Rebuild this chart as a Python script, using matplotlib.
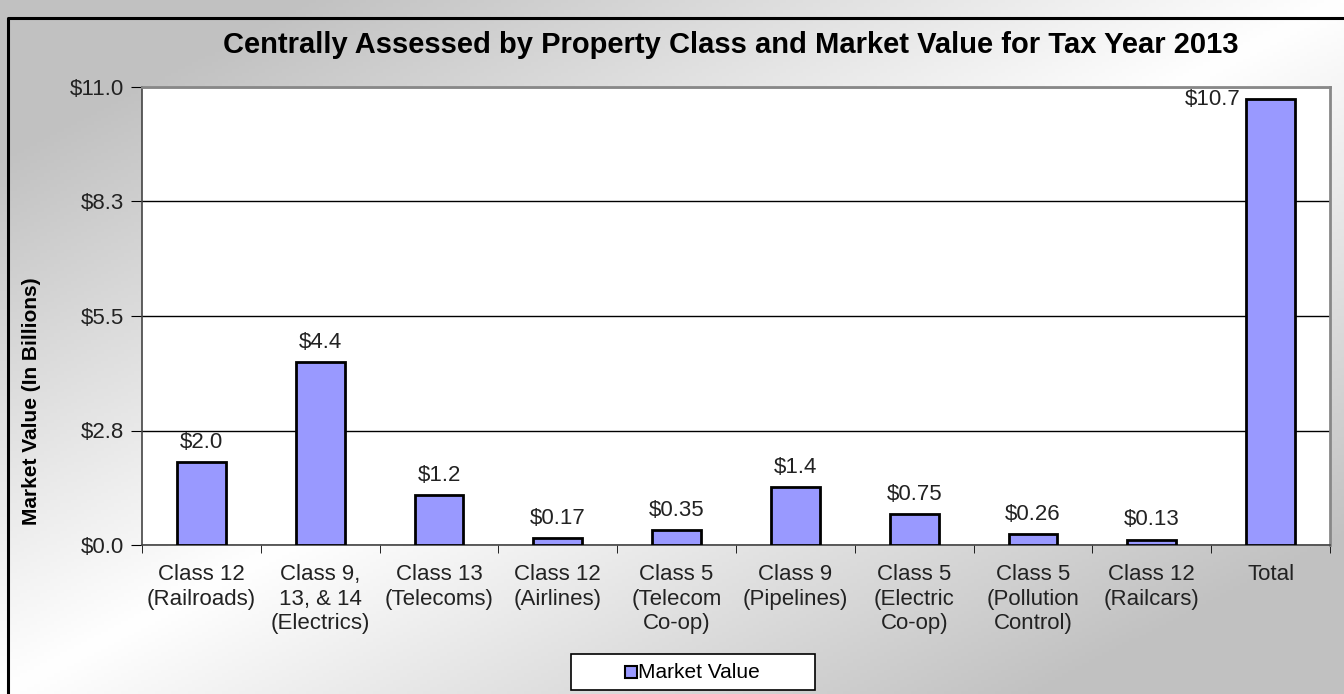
import numpy as np
import matplotlib.pyplot as plt
from matplotlib.patches import Rectangle

plt.rcParams['font.family'] = ['Liberation Sans', 'DejaVu Sans']

# data
categories = ["Class 12\n(Railroads)", "Class 9,\n13, & 14\n(Electrics)", "Class 13\n(Telecoms)",
              "Class 12\n(Airlines)", "Class 5\n(Telecom\nCo-op)", "Class 9\n(Pipelines)",
              "Class 5\n(Electric\nCo-op)", "Class 5\n(Pollution\nControl)", "Class 12\n(Railcars)",
              "Total"]
values = [2.0, 4.4, 1.2, 0.17, 0.35, 1.4, 0.75, 0.26, 0.13, 10.7]
value_labels = ["$2.0", "$4.4", "$1.2", "$0.17", "$0.35", "$1.4", "$0.75", "$0.26", "$0.13", "$10.7"]
yticks = [0, 2.75, 5.5, 8.25, 11.0]
ytick_labels = ["$0.0", "$2.8", "$5.5", "$8.3", "$11.0"]

W, H = 1344, 694
fig = plt.figure(figsize=(W / 100, H / 100), dpi=100)

# gradient background: grey top-left and bottom-right, white along the other diagonal
bg = fig.add_axes([0, 0, 1, 1])
xx, yy = np.meshgrid(np.linspace(0, 1, 400), np.linspace(0, 1, 200))
t = np.abs(xx + yy - 1.0)
g = 1.0 - 0.24 * np.clip(t * 1.3, 0, 1)
bg.imshow(np.dstack([g, g, g]), extent=[0, 1, 1, 0], aspect='auto')
bg.set_xlim(0, 1)
bg.set_ylim(1, 0)
bg.axis('off')
# outer border
bg.plot([8 / W, 8 / W, 1.0], [1.0, 18 / H, 18 / H], color='black', lw=2.2)

ax = fig.add_axes([142 / W, 1 - 545 / H, (1330 - 142) / W, (545 - 87) / H])
ax.set_facecolor('white')
x = np.arange(len(categories))
ax.bar(x, values, width=0.41, color='#9999FF', edgecolor='black', linewidth=2, zorder=3)

for i, (v, lab) in enumerate(zip(values, value_labels)):
    if i == len(values) - 1:
        ax.text(i - 0.25, v, lab, ha='right', va='center', fontsize=16, color='#222222')
    else:
        ax.text(i, v + 0.22, lab, ha='center', va='bottom', fontsize=16, color='#222222')

ax.set_xlim(-0.5, len(categories) - 0.5)
ax.set_ylim(0, 11.0)
ax.set_yticks(yticks)
ax.set_yticklabels(ytick_labels, fontsize=16, color='#222222')
ax.yaxis.grid(True, color='black', lw=1)
ax.set_axisbelow(True)
ax.set_xticks(x)
ax.set_xticklabels(categories, fontsize=16, va='top', linespacing=1.2, color='#222222')
ax.set_xticks(np.arange(len(categories) + 1) - 0.5, minor=True)
ax.tick_params(axis='x', which='major', length=0, pad=14)
ax.tick_params(axis='x', which='minor', length=6, direction='out')
ax.tick_params(axis='y', length=8, direction='out', pad=5)
for s in ['top', 'right']:
    ax.spines[s].set_color('#888888')
    ax.spines[s].set_linewidth(2)
for s in ['left', 'bottom']:
    ax.spines[s].set_color('#444444')
    ax.spines[s].set_linewidth(1.2)

fig.text(731 / W, 1 - 45 / H, "Centrally Assessed by Property Class and Market Value for Tax Year 2013",
         ha='center', va='center', fontsize=21, fontweight='bold')
fig.text(32 / W, 1 - 401 / H, "Market Value (In Billions)", rotation=90,
         ha='center', va='center', fontsize=15, fontweight='bold')

# legend box
bg.add_patch(Rectangle((571 / W, 654 / H), (815 - 571) / W, (690 - 654) / H,
                       facecolor='white', edgecolor='black', lw=1.2, zorder=5))
bg.plot([631 / W], [672 / H], marker='s', markersize=8, color='#9999FF',
        markeredgecolor='black', markeredgewidth=1.5, zorder=6)
bg.text(638 / W, 672 / H, "Market Value", ha='left', va='center', fontsize=15, zorder=6)

fig.savefig("out.png", dpi=100)
